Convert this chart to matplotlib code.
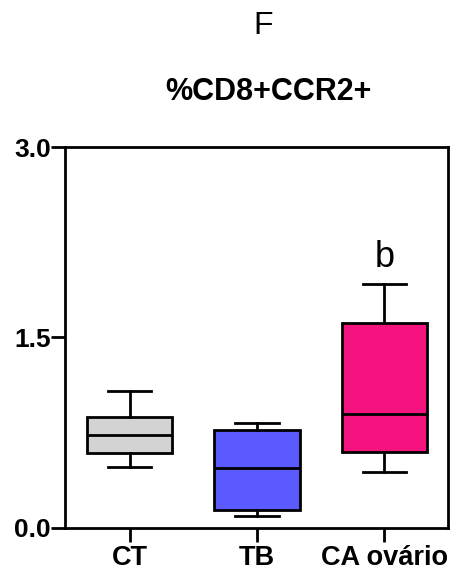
import matplotlib
matplotlib.use("Agg")
import matplotlib.pyplot as plt

plt.rcParams['font.family'] = ['Liberation Sans', 'DejaVu Sans']

groups = ["CT", "TB", "CA ovário"]
whisker_low = [0.48, 0.092, 0.438]
q1 = [0.59, 0.144, 0.596]
median = [0.73, 0.47, 0.898]
q3 = [0.872, 0.769, 1.612]
whisker_high = [1.081, 0.829, 1.92]
colors = ["#d3d3d3", "#5a5aff", "#f5147f"]
annotations = ["", "", "b"]
yticks = [0.0, 1.5, 3.0]
ytick_labels = ["0.0", "1.5", "3.0"]

fig = plt.figure(figsize=(4.59, 5.70), dpi=100)
ax = fig.add_axes([0.1416, 0.0737, 0.8344, 0.6684])

stats = []
for i, g in enumerate(groups):
    stats.append(dict(label=g, whislo=whisker_low[i], q1=q1[i], med=median[i],
                      q3=q3[i], whishi=whisker_high[i], fliers=[]))

positions = list(range(1, len(groups) + 1))
bp = ax.bxp(stats, positions=positions, widths=0.667, patch_artist=True,
            showfliers=False,
            boxprops=dict(linewidth=2, edgecolor="black"),
            medianprops=dict(color="black", linewidth=2),
            whiskerprops=dict(color="black", linewidth=2),
            capprops=dict(color="black", linewidth=2),
            capwidths=0.34)
for patch, c in zip(bp["boxes"], colors):
    patch.set_facecolor(c)

for p, hi, txt in zip(positions, whisker_high, annotations):
    if txt:
        ax.text(p, hi + 0.135, txt, ha="center", va="baseline", fontsize=26)

ax.set_xlim(0.494, 3.498)
ax.set_ylim(0, 3.0)
ax.set_yticks(yticks)
ax.set_yticklabels(ytick_labels)
ax.set_xticks(positions)
ax.set_xticklabels(groups)
for s in ax.spines.values():
    s.set_linewidth(2)
ax.tick_params(axis="y", length=10, width=2, labelsize=19, pad=0)
ax.tick_params(axis="x", length=10, width=2, labelsize=19.5, pad=2)
for lab in ax.get_xticklabels() + ax.get_yticklabels():
    lab.set_fontweight("bold")

fig.text(0.573, 1 - 26 / 570, "F", ha="center", va="center", fontsize=23)
fig.text(0.584, 1 - 92 / 570, "%CD8+CCR2+", ha="center", va="center",
         fontsize=22, fontweight="bold")

fig.savefig("out.png", dpi=100)
